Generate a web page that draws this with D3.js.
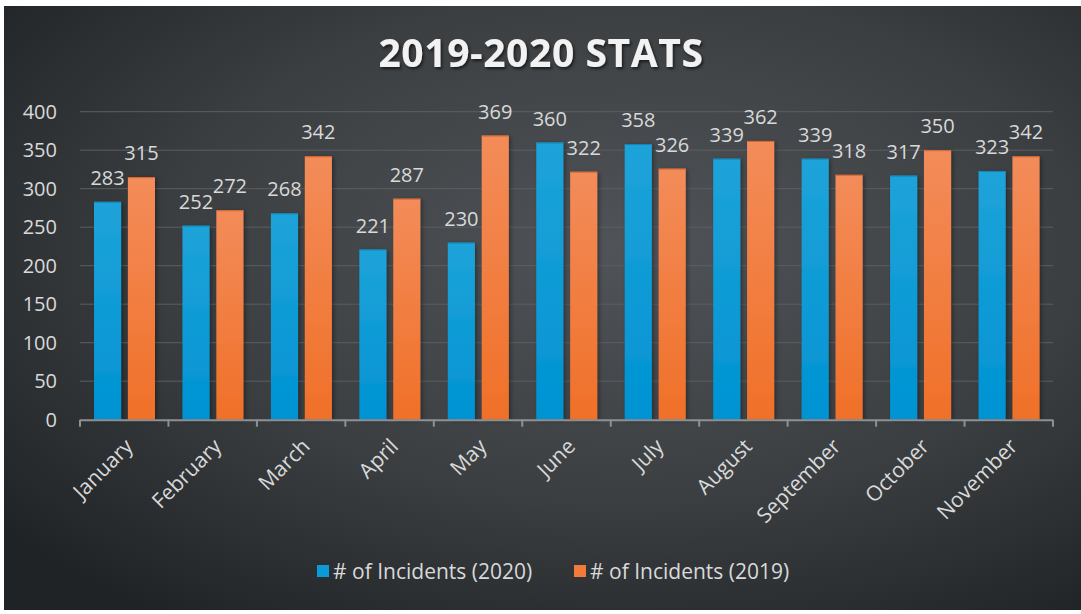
<!DOCTYPE html>
<html><head><meta charset="utf-8">
<script src="https://cdn.jsdelivr.net/npm/d3@7"></script>
<style>
html,body{margin:0;padding:0;background:#fff;}
svg{display:block;}
</style></head>
<body>
<script>
const months = ["January","February","March","April","May","June","July","August","September","October","November"];
const incidents2020 = [283,252,268,221,230,360,358,339,339,317,323];
const incidents2019 = [315,272,342,287,369,322,326,362,318,350,342];
const seriesNames = ["# of Incidents (2020)","# of Incidents (2019)"];
const yTicks = [0,50,100,150,200,250,300,350,400];

const W=1081,H=614;
const svg=d3.select("body").append("svg").attr("width",W).attr("height",H);
const defs=svg.append("defs");
const bg=defs.append("radialGradient").attr("id","bg").attr("cx","58%").attr("cy","40%").attr("r","75%");
bg.append("stop").attr("offset","0%").attr("stop-color","#505458");
bg.append("stop").attr("offset","55%").attr("stop-color","#3b3f42");
bg.append("stop").attr("offset","100%").attr("stop-color","#202326");
const gb=defs.append("linearGradient").attr("id","gBlue").attr("x1",0).attr("y1",0).attr("x2",0).attr("y2",1);
gb.append("stop").attr("offset","0%").attr("stop-color","#1ea3d9");
gb.append("stop").attr("offset","100%").attr("stop-color","#0093d3");
const go=defs.append("linearGradient").attr("id","gOrange").attr("x1",0).attr("y1",0).attr("x2",0).attr("y2",1);
go.append("stop").attr("offset","0%").attr("stop-color","#f38c5a");
go.append("stop").attr("offset","100%").attr("stop-color","#f07028");
const sh=defs.append("filter").attr("id","ts").attr("x","-10%").attr("y","-20%").attr("width","120%").attr("height","150%");
sh.append("feDropShadow").attr("dx",1.5).attr("dy",2).attr("stdDeviation",1.5).attr("flood-color","#000").attr("flood-opacity",0.6);
const bs=defs.append("filter").attr("id","bs").attr("x","-20%").attr("y","-5%").attr("width","150%").attr("height","110%");
bs.append("feDropShadow").attr("dx",2).attr("dy",1).attr("stdDeviation",2).attr("flood-color","#000").attr("flood-opacity",0.35);

svg.append("rect").attr("x",4).attr("y",6).attr("width",W-4).attr("height",604).attr("fill","url(#bg)");

const m={l:80,r:1053,t:111.7,b:419.7};
const x=d3.scaleBand().domain(months).range([m.l,m.r]).paddingInner(0).paddingOuter(0);
const y=d3.scaleLinear().domain([0,400]).range([m.b,m.t]);
const inner=d3.scaleBand().domain([0,1]).range([14,75]).paddingInner(0.2);

const font="'Open Sans', sans-serif";
const txtCol="#d9d9d9";

// gridlines
svg.append("g").selectAll("line").data(yTicks.filter(d=>d>0)).join("line")
 .attr("x1",m.l).attr("x2",m.r).attr("y1",d=>y(d)).attr("y2",d=>y(d))
 .attr("stroke","#5b5f63").attr("stroke-width",1);

// y labels
svg.append("g").selectAll("text").data(yTicks).join("text")
 .attr("x",57).attr("y",d=>y(d)).attr("dy","0.36em").attr("text-anchor","end")
 .attr("font-family",font).attr("font-size",20).attr("fill",txtCol).text(d=>d);

// bars
const series=[incidents2020,incidents2019];
const fills=["url(#gBlue)","url(#gOrange)"];
const strokes=["#1585b5","#d8682e"];
series.forEach((vals,si)=>{
  const g=svg.append("g").attr("filter","url(#bs)");
  g.selectAll("rect").data(vals).join("rect")
   .attr("x",(d,i)=>x(months[i])+inner(si)).attr("width",inner.bandwidth())
   .attr("y",d=>y(d)).attr("height",d=>y(0)-y(d))
   .attr("fill",fills[si]);
  svg.append("g").selectAll("line").data(vals).join("line")
   .attr("x1",(d,i)=>x(months[i])+inner(si)).attr("x2",(d,i)=>x(months[i])+inner(si)+inner.bandwidth())
   .attr("y1",d=>y(d)+0.5).attr("y2",d=>y(d)+0.5).attr("stroke",strokes[si]).attr("stroke-width",1);
  svg.append("g").selectAll("text").data(vals).join("text")
   .attr("x",(d,i)=>x(months[i])+inner(si)+inner.bandwidth()/2)
   .attr("y",d=>y(d)-17).attr("text-anchor","middle")
   .attr("font-family",font).attr("font-size",20).attr("fill",txtCol).text(d=>d);
});

// x axis
const ax=svg.append("g");
ax.append("line").attr("x1",m.l).attr("x2",m.r).attr("y1",m.b+0.5).attr("y2",m.b+0.5).attr("stroke","#8e9194").attr("stroke-width",2);
const tickPos=months.map(d=>x(d)).concat([m.r]);
ax.selectAll("line.t").data(tickPos).join("line").attr("class","t")
 .attr("x1",d=>d).attr("x2",d=>d).attr("y1",m.b).attr("y2",m.b+7).attr("stroke","#8e9194").attr("stroke-width",2);
ax.selectAll("text").data(months).join("text")
 .attr("transform",d=>`translate(${x(d)+x.bandwidth()/2+10},${m.b+28}) rotate(-45)`)
 .attr("text-anchor","end").attr("font-family",font).attr("font-size",21).attr("fill",txtCol).text(d=>d);

// title
svg.append("text").attr("x",541).attr("y",67).attr("text-anchor","middle")
 .attr("font-family",font).attr("font-weight","bold").attr("font-size",39).attr("letter-spacing",0.6)
 .attr("fill","#f2f2f2").attr("filter","url(#ts)").text("2019-2020 STATS");

// legend
const legX=[317,574];
const legCols=["#0a9ad6","#f27a3a"];
seriesNames.forEach((n,i)=>{
  svg.append("rect").attr("x",legX[i]).attr("y",565).attr("width",12).attr("height",12).attr("fill",legCols[i]);
  svg.append("text").attr("x",legX[i]+16).attr("y",579).attr("font-family",font).attr("font-size",21).attr("fill",txtCol).text(n);
});
</script>
</body></html>
